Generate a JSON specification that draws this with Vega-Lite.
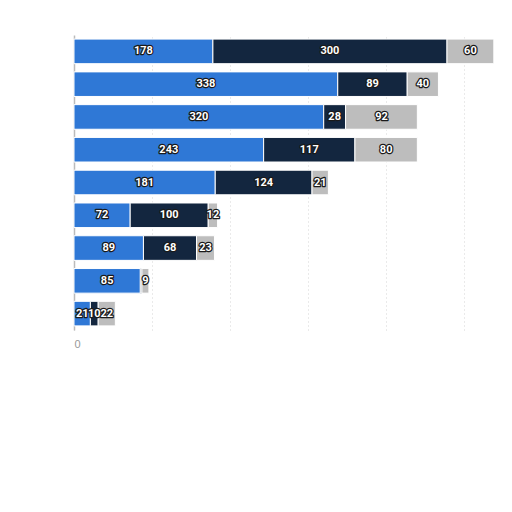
{
  "$schema": "https://vega.github.io/schema/vega-lite/v6.json",
  "width": 437,
  "height": 295,
  "autosize": {"type": "none"},
  "padding": {"left": 74, "top": 35, "right": 1, "bottom": 182},
  "background": "white",
  "config": {"view": {"stroke": null}},
  "data": {"values": [
    {"row": "r1", "seg": "A", "ord": 1, "value": 178},
    {"row": "r1", "seg": "B", "ord": 2, "value": 300},
    {"row": "r1", "seg": "C", "ord": 3, "value": 60},
    {"row": "r2", "seg": "A", "ord": 1, "value": 338},
    {"row": "r2", "seg": "B", "ord": 2, "value": 89},
    {"row": "r2", "seg": "C", "ord": 3, "value": 40},
    {"row": "r3", "seg": "A", "ord": 1, "value": 320},
    {"row": "r3", "seg": "B", "ord": 2, "value": 28},
    {"row": "r3", "seg": "C", "ord": 3, "value": 92},
    {"row": "r4", "seg": "A", "ord": 1, "value": 243},
    {"row": "r4", "seg": "B", "ord": 2, "value": 117},
    {"row": "r4", "seg": "C", "ord": 3, "value": 80},
    {"row": "r5", "seg": "A", "ord": 1, "value": 181},
    {"row": "r5", "seg": "B", "ord": 2, "value": 124},
    {"row": "r5", "seg": "C", "ord": 3, "value": 21},
    {"row": "r6", "seg": "A", "ord": 1, "value": 72},
    {"row": "r6", "seg": "B", "ord": 2, "value": 100},
    {"row": "r6", "seg": "C", "ord": 3, "value": 12},
    {"row": "r7", "seg": "A", "ord": 1, "value": 89},
    {"row": "r7", "seg": "B", "ord": 2, "value": 68},
    {"row": "r7", "seg": "C", "ord": 3, "value": 23},
    {"row": "r8", "seg": "A", "ord": 1, "value": 85},
    {"row": "r8", "seg": "B", "ord": 2, "value": 2},
    {"row": "r8", "seg": "C", "ord": 3, "value": 9},
    {"row": "r9", "seg": "A", "ord": 1, "value": 21},
    {"row": "r9", "seg": "B", "ord": 2, "value": 10},
    {"row": "r9", "seg": "C", "ord": 3, "value": 22}
  ]},
  "transform": [
    {"stack": "value", "groupby": ["row"], "sort": [{"field": "ord", "order": "ascending"}], "as": ["v0", "v1"]},
    {"calculate": "(datum.v0 + datum.v1) / 2", "as": "mid"}
  ],
  "encoding": {
    "y": {"field": "row", "type": "nominal", "sort": null,
      "scale": {"paddingInner": 0.25, "paddingOuter": 0.125},
      "axis": {"labels": false, "ticks": false, "title": null, "domain": true, "domainColor": "#bbbbbb", "domainWidth": 1.5}}
  },
  "layer": [
    {
      "mark": {"type": "bar", "stroke": "white", "strokeWidth": 1},
      "encoding": {
        "x": {"field": "v0", "type": "quantitative",
          "scale": {"domain": [0, 560], "nice": false},
          "axis": {"title": null, "values": [0, 100, 200, 300, 400, 500], "grid": true, "gridDash": [1, 3], "gridColor": "#d4d4d4",
            "domain": false, "ticks": false, "labelExpr": "datum.value == 0 ? '0' : ''", "labelColor": "#999999", "labelFontSize": 11, "labelPadding": 8}},
        "x2": {"field": "v1"},
        "color": {"field": "seg", "type": "nominal", "legend": null,
          "scale": {"domain": ["A", "B", "C"], "range": ["#2f78d6", "#13263f", "#bdbdbd"]}}
      }
    },
    {
      "transform": [{"filter": "datum.value >= 5"}],
      "mark": {"type": "text", "font": "Roboto", "fontWeight": "bold", "fontSize": 11, "fill": "white", "stroke": "#1a1a1a", "strokeWidth": 2.5, "strokeJoin": "round"},
      "encoding": {
        "x": {"field": "mid", "type": "quantitative"},
        "text": {"field": "value", "type": "quantitative"}
      }
    },
    {
      "transform": [{"filter": "datum.value >= 5"}],
      "mark": {"type": "text", "font": "Roboto", "fontWeight": "bold", "fontSize": 11, "fill": "white"},
      "encoding": {
        "x": {"field": "mid", "type": "quantitative"},
        "text": {"field": "value", "type": "quantitative"}
      }
    }
  ]
}
